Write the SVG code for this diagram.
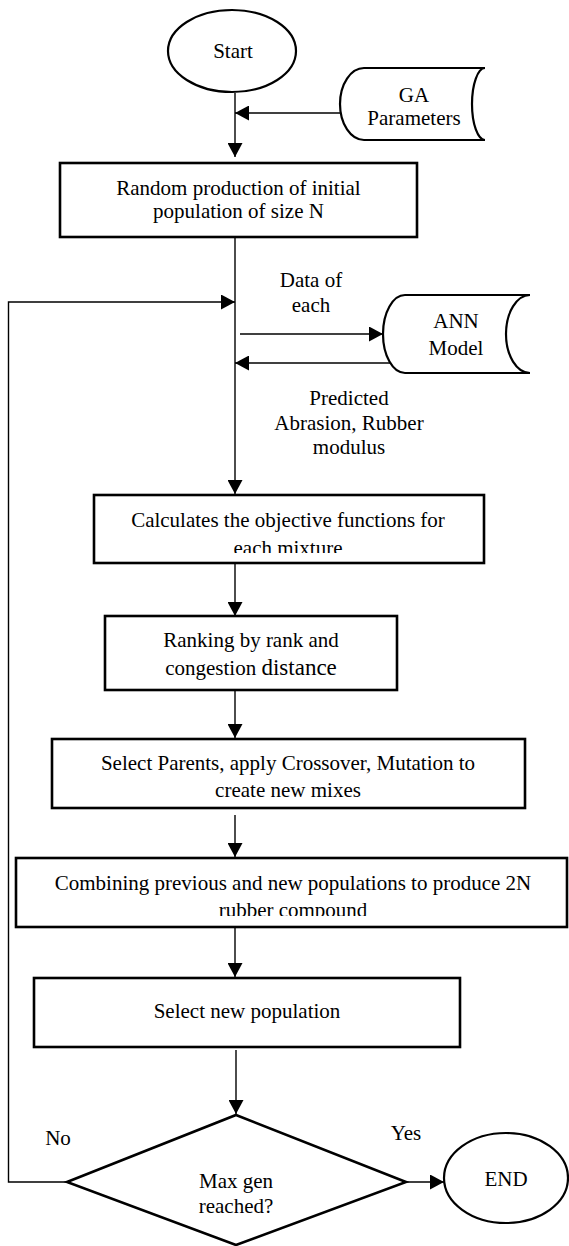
<svg xmlns="http://www.w3.org/2000/svg" width="569" height="1246" viewBox="0 0 569 1246">
<style>
  text { font-family: "Liberation Serif", "Times New Roman", serif; font-size: 21px; fill: #000; text-anchor: middle; }
  .box { fill: #fff; stroke: #000; stroke-width: 2.6; }
  .term { fill: #fff; stroke: #000; stroke-width: 2.2; }
  .store { fill: #fff; stroke: #000; stroke-width: 2.2; }
  .conn { fill: none; stroke: #000; stroke-width: 1.4; }
  .lbl { text-anchor: middle; }
</style>
<defs>
  <marker id="ah" viewBox="0 0 14 15" refX="14" refY="7.5" markerWidth="14" markerHeight="15" markerUnits="userSpaceOnUse" orient="auto">
    <path d="M0,0 L14,7.5 L0,15 z" fill="#000"/>
  </marker>
  <clipPath id="clipCalc"><rect x="94" y="495" width="390" height="58"/></clipPath>
  <clipPath id="clipComb"><rect x="16" y="858" width="551" height="58"/></clipPath>
</defs>
<rect width="569" height="1246" fill="#fff"/>

<g id="connectors">
  <line class="conn" x1="235" y1="93" x2="235" y2="157" marker-end="url(#ah)"/>
  <line class="conn" x1="340" y1="113" x2="235" y2="113" marker-end="url(#ah)"/>
  <line class="conn" x1="235" y1="237" x2="235" y2="494" marker-end="url(#ah)"/>
  <polyline class="conn" points="67,1182 8.5,1182 8.5,302 235,302" marker-end="url(#ah)"/>
  <line class="conn" x1="240" y1="334" x2="383" y2="334" marker-end="url(#ah)"/>
  <line class="conn" x1="390" y1="363" x2="235" y2="363" marker-end="url(#ah)"/>
  <line class="conn" x1="235" y1="563" x2="235" y2="616" marker-end="url(#ah)"/>
  <line class="conn" x1="235" y1="690" x2="235" y2="738" marker-end="url(#ah)"/>
  <line class="conn" x1="235" y1="815" x2="235" y2="857" marker-end="url(#ah)"/>
  <line class="conn" x1="235" y1="928" x2="235" y2="977" marker-end="url(#ah)"/>
  <line class="conn" x1="236" y1="1050" x2="236" y2="1114" marker-end="url(#ah)"/>
  <line class="conn" x1="406" y1="1182" x2="444" y2="1182" marker-end="url(#ah)"/>
  <text x="311" y="287">Data of</text>
  <text x="311" y="312">each</text>
  <text x="349" y="405">Predicted</text>
  <text x="349" y="430">Abrasion, Rubber</text>
  <text x="349" y="454">modulus</text>
  <text x="58" y="1145">No</text>
  <text x="406" y="1140">Yes</text>
</g>

<g id="start">
  <ellipse class="term" cx="232" cy="51" rx="64" ry="41"/>
  <text x="233" y="58">Start</text>
</g>

<g id="ga-parameters">
  <path class="store" d="M485,68 H364 A24,36 0 0 0 364,140 H485"/>
  <path class="store" fill="none" d="M485,68 A13,36 0 0 0 485,140"/>
  <text x="414" y="102">GA</text>
  <text x="414" y="125">Parameters</text>
</g>

<g id="random-init">
  <rect class="box" x="60" y="163" width="357" height="74"/>
  <text x="238.5" y="195">Random production of initial</text>
  <text x="238.5" y="218">population of size N</text>
</g>

<g id="ann-model">
  <path class="store" d="M530,295 H405 A22,39 0 0 0 405,373 H530"/>
  <path class="store" fill="none" d="M530,295 A24,39 0 0 0 530,373"/>
  <text x="456" y="328">ANN</text>
  <text x="456" y="355">Model</text>
</g>

<g id="objective">
  <rect class="box" x="94" y="495" width="390" height="68"/>
  <text x="288" y="527">Calculates the objective functions for</text>
  <text x="288" y="555" clip-path="url(#clipCalc)">each mixture</text>
</g>

<g id="ranking">
  <rect class="box" x="105" y="616" width="292" height="74"/>
  <text x="251" y="647">Ranking by rank and</text>
  <text x="251" y="675">congestion <tspan font-size="23">distance</tspan></text>
</g>

<g id="select-parents">
  <rect class="box" x="52" y="739" width="473" height="69"/>
  <text x="288" y="770">Select Parents, apply Crossover, Mutation to</text>
  <text x="288" y="797">create new mixes</text>
</g>

<g id="combine">
  <rect class="box" x="16" y="858" width="551" height="69"/>
  <text x="293" y="890">Combining previous and new populations to produce 2N</text>
  <text x="293" y="917" clip-path="url(#clipComb)">rubber compound</text>
</g>

<g id="select-new">
  <rect class="box" x="34" y="978" width="426" height="69"/>
  <text x="247" y="1018">Select new population</text>
</g>

<g id="decision">
  <polygon class="box" points="236,1115 406,1182 236,1245 67,1182"/>
  <text x="236" y="1188">Max gen</text>
  <text x="236" y="1213">reached?</text>
</g>

<g id="end">
  <ellipse class="term" cx="506" cy="1178" rx="62" ry="45"/>
  <text x="506" y="1186">END</text>
</g>
</svg>
